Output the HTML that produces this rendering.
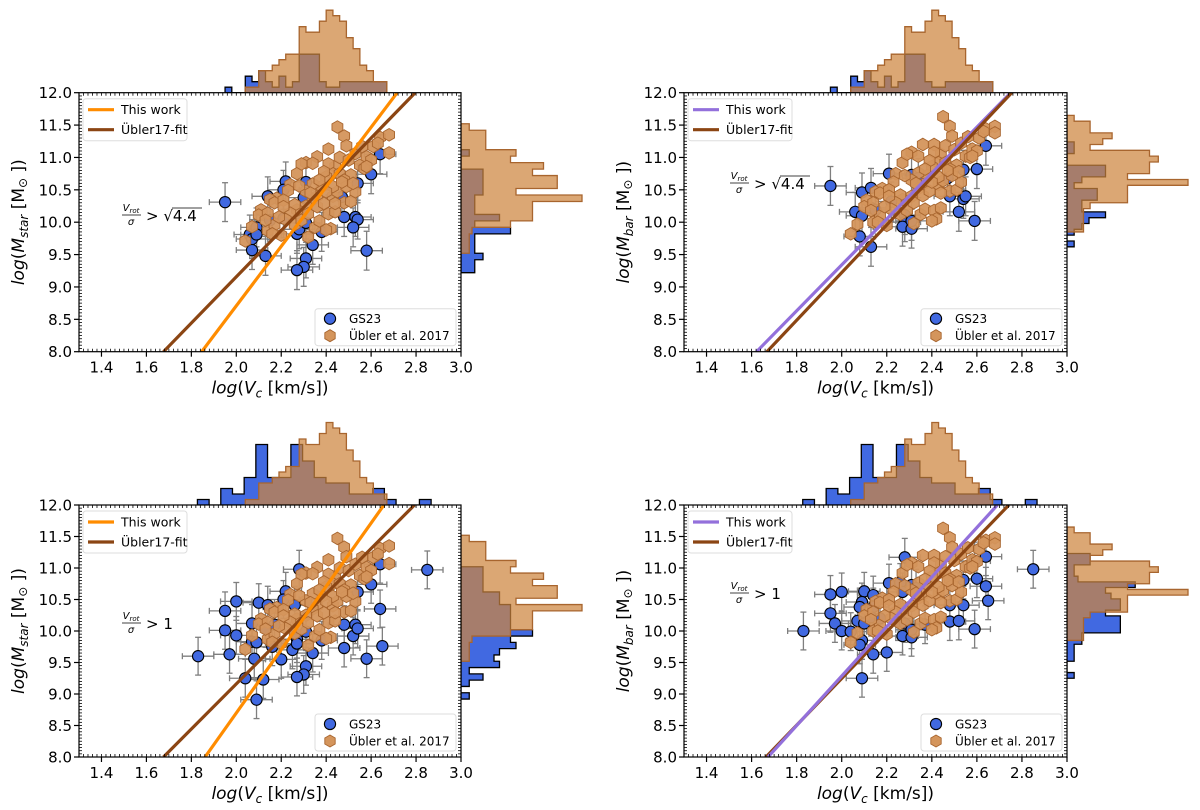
<!DOCTYPE html>
<html><head><meta charset="utf-8">
<style>
html,body{margin:0;padding:0;background:#fff;}
svg{display:block;font-family:"DejaVu Sans","Liberation Sans",sans-serif;}
</style></head>
<body>
<svg id="fig" width="1200" height="810" viewBox="0 0 1200 810" xmlns="http://www.w3.org/2000/svg"></svg>
<script>
// ---- shared data (Übler et al. 2017 sample) ----
const ublerVc = [2.45,2.48,2.49,2.41,2.36,2.31,2.34,2.27,2.24,2.23,2.18,2.15,2.17,2.21,2.11,2.10,2.07,2.04,2.14,2.17,2.20,2.32,2.35,2.37,2.41,2.44,2.42,2.40,2.48,2.51,2.53,2.51,2.55,2.58,2.61,2.64,2.68,2.68,2.63,2.57,2.44,2.43,2.41,2.46,2.48,2.40,2.38,2.36,2.34,2.31,2.27,2.26,2.24,2.22,2.26,2.29,2.32,2.36,2.39,2.43,2.45,2.49,2.43,2.40,2.46,2.50,2.53,2.56,2.47,2.34,2.31,2.28,2.21,2.14,2.13,2.19,2.16,2.60,2.58,2.39,2.44,2.29,2.52,2.37,2.33];
const ublerMstar = [11.47,11.33,11.18,11.13,11.01,10.92,10.91,10.75,10.58,10.49,10.37,10.35,10.30,10.34,10.19,10.11,9.93,9.71,9.87,9.96,9.80,9.77,9.92,10.02,10.13,10.16,9.90,9.88,10.30,10.32,10.47,10.73,10.88,11.01,11.17,11.31,11.35,11.07,11.22,10.83,10.86,10.75,10.90,10.75,10.65,10.70,10.55,10.40,10.35,10.25,10.19,10.27,10.14,10.04,9.96,10.03,10.13,10.24,10.29,10.40,10.47,10.55,10.55,10.47,11.00,10.96,11.06,11.17,10.62,10.59,10.48,10.56,10.24,10.14,10.03,10.08,9.82,10.96,10.86,10.78,10.29,10.90,10.60,10.65,10.45];
const ublerMbar = [11.63,11.48,11.33,11.20,11.20,11.08,11.02,10.92,10.75,10.62,10.52,10.47,10.45,10.50,10.34,10.24,9.97,9.82,10.00,10.10,9.95,9.98,10.12,10.20,10.18,10.22,10.05,10.02,10.48,10.50,10.62,10.88,11.02,11.13,11.30,11.44,11.48,11.38,11.40,11.00,11.05,10.92,11.08,10.92,10.82,10.86,10.72,10.58,10.52,10.40,10.35,10.42,10.30,10.20,10.12,10.18,10.30,10.41,10.48,10.58,10.64,10.72,10.70,10.62,11.18,11.12,11.22,11.32,10.80,10.76,10.65,10.72,10.40,10.30,10.18,10.24,10.00,11.10,11.02,10.95,10.45,11.05,10.78,10.82,10.60];

// ---- GS23 samples ----
const tlBlueX = [1.95,2.06,2.07,2.09,2.09,2.07,2.13,2.14,2.15,2.22,2.21,2.21,2.30,2.31,2.27,2.28,2.31,2.34,2.31,2.30,2.27,2.38,2.47,2.48,2.54,2.53,2.54,2.52,2.60,2.64,2.58];
const tlBlueY = [10.31,9.81,9.74,9.92,9.81,9.57,9.48,10.40,10.03,10.63,10.50,10.06,10.38,10.62,9.82,9.89,9.99,9.65,9.44,9.31,9.26,9.85,10.39,10.08,10.60,10.08,10.04,9.92,10.74,11.05,9.56];
const trBlueX = [1.95,2.06,2.09,2.09,2.08,2.13,2.13,2.15,2.13,2.21,2.22,2.28,2.28,2.27,2.31,2.31,2.31,2.34,2.48,2.52,2.54,2.55,2.54,2.59,2.60,2.64,2.47];
const trBlueY = [10.56,10.16,10.46,10.10,9.78,10.53,10.22,10.19,9.62,10.75,10.32,10.11,10.00,9.93,9.90,10.02,10.73,10.68,10.40,10.16,10.36,10.40,10.81,10.02,10.82,11.18,10.68];
const blBlueX = [1.83,1.95,1.95,1.97,2.00,2.00,2.04,2.07,2.10,2.07,2.09,2.08,2.13,2.12,2.09,2.14,2.17,2.16,2.20,2.22,2.21,2.25,2.26,2.28,2.27,2.27,2.31,2.31,2.30,2.27,2.34,2.38,2.48,2.48,2.54,2.52,2.53,2.54,2.58,2.60,2.64,2.65,2.64,2.85];
const blBlueY = [9.60,10.32,10.01,9.63,10.47,9.93,9.25,10.12,10.45,9.83,9.82,9.56,10.04,9.23,8.91,10.41,10.10,9.75,9.55,10.63,10.50,9.70,10.41,10.98,9.87,9.80,9.99,9.44,9.31,9.27,9.65,9.85,10.10,9.73,10.62,9.92,10.10,10.04,9.56,10.74,10.35,9.76,11.06,10.97];
const brBlueX = [1.83,1.95,1.95,1.97,2.00,2.00,2.04,2.09,2.10,2.09,2.08,2.07,2.10,2.09,2.08,2.14,2.14,2.13,2.17,2.14,2.20,2.21,2.26,2.28,2.27,2.25,2.28,2.27,2.31,2.31,2.31,2.33,2.37,2.48,2.48,2.52,2.54,2.54,2.59,2.60,2.59,2.64,2.64,2.65,2.85];
const brBlueY = [10.00,10.58,10.28,10.12,10.62,10.00,9.99,9.25,10.63,10.46,10.38,10.16,10.12,9.85,9.78,10.57,10.38,10.22,10.20,9.63,9.66,10.76,10.77,11.17,10.62,10.15,10.12,9.92,9.90,10.02,10.73,10.68,10.10,10.41,10.15,10.16,10.41,10.81,10.03,10.83,11.11,11.18,10.71,10.48,10.98];

// ---- fit lines: x at log M = 8 and 12 ----
const lineYs = [8, 12];
const tlThisX = [1.846, 2.716], tlUblerX = [1.676, 2.796];
const trThisX = [1.622, 2.750], trUblerX = [1.668, 2.755];
const blThisX = [1.861, 2.657], blUblerX = [1.676, 2.793];
const brThisX = [1.673, 2.691], brUblerX = [1.664, 2.742];

// ---- marginal histograms (counts) ----
const topOrangeStart = 2.04, topOrangeW = 0.03;
const topOrangeCounts = [1,1,4,4,5,6,7,7,12,11,11,13,15,14,13,10,8,5,4,2,2];
const topBlueHiStart = 1.95, topBlueHiW = 0.03;
const topBlueHiCounts = [1,0,0,3,2,4,2,1,3,1,2,7,7,7,2,1,1,2,2,2,2,2,2,2];
const topBlueAllStart = 1.827, topBlueAllW = 0.052;
const topBlueAllCounts = [1,0,3,2,5,11,5,5,11,8,5,4,4,2,2,3,1,0,0,1];

const rStarOrangeStart = 9.52, rStarW = 0.1;
const rStarOrange = [1.5,1.5,1.5,2,9,13,13,13,22,10,17.5,17.5,13,15,9,10,4.5,4.5,4.5,1.5];
const rStarBlueHiStart = 9.22;
const rStarBlueHi = [2.5,2.5,4,2.5,2.5,2.5,9,2.5,7,2.5,2.5,2.5,4,4,4,4,0,0,1.5];
const rStarBlueAllStart = 8.92;
const rStarBlueAll = [1.5,0,1.5,4,1.5,7,6,7,10,9,13,9,9,9,9,7,7,4,4,4,4];

const rBarOrangeStart = 9.85, rBarW = 0.09;
const rBarOrange = [3,3,3,3,4.2,11,11,11,22,11,15,15,16.6,15,4.2,6.5,8.2,4.2,4.2,1.3];
const rBarBlueHiStart = 9.62;
const rBarBlueHi = [1.3,0,1.3,2.7,4,7,2.7,2.7,5.5,5.5,1.3,2.7,7,7,0,0,1.3,1.3];
const rBarBlueAllStart = 9.25;
const rBarBlueAll = [1.3,0,0,1.3,1.3,1.3,2.7,2.7,9.7,9.7,9.7,7,9.7,9.7,8,7,12.4,2,1.3,1.3,4.2,4.2];

const xTicks = [1.4,1.6,1.8,2.0,2.2,2.4,2.6,2.8,3.0];
const yTicks = [8.0,8.5,9.0,9.5,10.0,10.5,11.0,11.5,12.0];

const NS = "http://www.w3.org/2000/svg";
const svg = document.getElementById('fig');
function mk(tag, attrs, parent){ const e=document.createElementNS(NS,tag); for(const k in attrs) e.setAttribute(k,attrs[k]); (parent||svg).appendChild(e); return e; }

const BLUE="#4169e1", OR_FILL="rgb(205,133,63)", OR_EDGE="#a8652e";
let clipId=0;

function panel(p){
  const g = mk('g',{});
  
  
  const X0=1.3,X1=3.0,Y0=8,Y1=12;
  const xs = v => p.x0 + (v-X0)/(X1-X0)*(p.x1-p.x0);
  const ys = v => p.y1 - (v-Y0)/(Y1-Y0)*(p.y1-p.y0);
  const U = 5.5;

  function topHist(start,w,counts,fill,stroke,op,name){
    let d=`M${xs(start)},${p.y0}`;
    counts.forEach((c,i)=>{ const xa=xs(start+i*w), xb=xs(start+(i+1)*w); d+=` L${xa},${p.y0-c*U} L${xb},${p.y0-c*U}`; });
    d+=` L${xs(start+counts.length*w)},${p.y0} Z`;
    const e=mk('path',{d,fill,'fill-opacity':op,stroke,'stroke-width':1.3},g);
    
    
  }
  function rightHist(start,w,counts,fill,stroke,op,name){
    let d=`M${p.x1},${ys(start)}`;
    counts.forEach((c,i)=>{ const ya=ys(start+i*w), yb=ys(start+(i+1)*w); d+=` L${p.x1+c*U},${ya} L${p.x1+c*U},${yb}`; });
    d+=` L${p.x1},${ys(start+counts.length*w)} Z`;
    const e=mk('path',{d,fill,'fill-opacity':op,stroke,'stroke-width':1.3},g);
    
    
  }
  topHist(p.tbStart,p.tbW,p.tbCounts,BLUE,"#000",1,'top-histogram-gs23');
  topHist(topOrangeStart,topOrangeW,topOrangeCounts,OR_FILL,OR_EDGE,0.72,'top-histogram-ubler');
  rightHist(p.rbStart,p.rW,p.rbCounts,BLUE,"#000",1,'right-histogram-gs23');
  rightHist(p.roStart,p.rW,p.roCounts,OR_FILL,OR_EDGE,0.72,'right-histogram-ubler');

  const bg=mk('rect',{x:p.x0,y:p.y0,width:p.x1-p.x0,height:p.y1-p.y0,fill:'#fff'},g);
  
  
  const cid='c'+(clipId++);
  const cp=mk('clipPath',{id:cid},g); mk('rect',{x:p.x0,y:p.y0,width:p.x1-p.x0,height:p.y1-p.y0},cp);
  const pg=mk('g',{'clip-path':`url(#${cid})`},g);

  p.bx.forEach((vx,i)=>{
    const vy=p.by[i], ex=0.07, ey=0.3;
    const eb=mk('g',{stroke:'#7f7f7f','stroke-width':1.3},pg);
    
    
    mk('line',{x1:xs(vx-ex),x2:xs(vx+ex),y1:ys(vy),y2:ys(vy)},eb);
    mk('line',{x1:xs(vx),x2:xs(vx),y1:ys(vy-ey),y2:ys(vy+ey)},eb);
    mk('line',{x1:xs(vx-ex),x2:xs(vx-ex),y1:ys(vy)-3,y2:ys(vy)+3},eb);
    mk('line',{x1:xs(vx+ex),x2:xs(vx+ex),y1:ys(vy)-3,y2:ys(vy)+3},eb);
    mk('line',{x1:xs(vx)-3,x2:xs(vx)+3,y1:ys(vy-ey),y2:ys(vy-ey)},eb);
    mk('line',{x1:xs(vx)-3,x2:xs(vx)+3,y1:ys(vy+ey),y2:ys(vy+ey)},eb);
  });
  p.bx.forEach((vx,i)=>{
    const c=mk('circle',{cx:xs(vx),cy:ys(p.by[i]),r:5.6,fill:BLUE,stroke:'#000','stroke-width':1.1},pg);
    
    
  });
  function hexPts(cx,cy,r){ let s=''; for(let k=0;k<6;k++){const a=Math.PI/2+k*Math.PI/3; s+=`${cx+r*Math.cos(a)},${cy-r*Math.sin(a)} `;} return s; }
  ublerVc.forEach((vx,i)=>{
    const h=mk('polygon',{points:hexPts(xs(vx),ys(p.oy[i]),6.3),fill:'#d4955c',stroke:'#a8652e','stroke-width':0.9,'fill-opacity':0.95},pg);
    
    
  });
  const l2=mk('line',{x1:xs(p.ublerX[0]),y1:ys(lineYs[0]),x2:xs(p.ublerX[1]),y2:ys(lineYs[1]),stroke:'#8b4513','stroke-width':3.2},pg);
  
  
  const l1=mk('line',{x1:xs(p.thisX[0]),y1:ys(lineYs[0]),x2:xs(p.thisX[1]),y2:ys(lineYs[1]),stroke:p.lineColor,'stroke-width':3.2},pg);
  
  
  if(p.first==='this'){ pg.appendChild(l2); }

  const fr=mk('rect',{x:p.x0,y:p.y0,width:p.x1-p.x0,height:p.y1-p.y0,fill:'none',stroke:'#000','stroke-width':1.2},g);
  
  
  const tg=mk('g',{stroke:'#000','stroke-width':0.8},g);
  
  
  for(let v=1.32; v<3.0; v+=0.02){ const x=xs(v); mk('line',{x1:x,x2:x,y1:p.y1,y2:p.y1-3},tg); mk('line',{x1:x,x2:x,y1:p.y0,y2:p.y0+3},tg); }
  for(let v=8.05; v<12; v+=0.05){ const y=ys(v); mk('line',{x1:p.x0,x2:p.x0+3,y1:y,y2:y},tg); mk('line',{x1:p.x1,x2:p.x1-3,y1:y,y2:y},tg); }
  xTicks.forEach(v=>{ const x=xs(v); mk('line',{x1:x,x2:x,y1:p.y1,y2:p.y1+5,'stroke-width':1.2},tg);
    const t=mk('text',{x:x,y:p.y1+21,'text-anchor':'middle','font-size':15,fill:'#000'},g); t.textContent=v.toFixed(1);
      });
  yTicks.forEach(v=>{ const y=ys(v); mk('line',{x1:p.x0,x2:p.x0-5,y1:y,y2:y,'stroke-width':1.2},tg);
    const t=mk('text',{x:p.x0-7,y:y+5.5,'text-anchor':'end','font-size':15,fill:'#000'},g); t.textContent=v.toFixed(1);
      });

  const xl=mk('text',{x:(p.x0+p.x1)/2,y:p.y1+42,'text-anchor':'middle','font-size':17,fill:'#000'},g);
  xl.innerHTML='<tspan font-style="italic">log</tspan>(<tspan font-style="italic">V</tspan><tspan font-size="12" dy="4" font-style="italic">c</tspan><tspan dy="-4"> [km/s])</tspan>';
   
  const cy=(p.y0+p.y1)/2, lx=p.x0-55;
  const yl=mk('text',{x:lx,y:cy,'text-anchor':'middle','font-size':17,fill:'#000',transform:`rotate(-90 ${lx} ${cy})`},g);
  yl.innerHTML=`<tspan font-style="italic">log</tspan>(<tspan font-style="italic">M</tspan><tspan font-size="12" dy="4" font-style="italic">${p.sub}</tspan><tspan dy="-4"> [M</tspan><tspan font-size="12" dy="3">⊙</tspan><tspan dy="-3"> ])</tspan>`;
   

  const an=mk('g',{},g);
   
  const ax=p.annX, ay=p.annY;
  const t1=mk('text',{x:ax+9,y:ay-4,'text-anchor':'middle','font-size':10,'font-style':'italic'},an); t1.innerHTML='V<tspan font-size="7" dy="2">rot</tspan>';
  mk('line',{x1:ax,x2:ax+19,y1:ay,y2:ay,stroke:'#000','stroke-width':0.8},an);
  const t2=mk('text',{x:ax+9,y:ay+10,'text-anchor':'middle','font-size':10,'font-style':'italic'},an); t2.textContent='σ';
  const t3=mk('text',{x:ax+24,y:ay+6,'font-size':15},an); t3.textContent=p.annText;
  if(p.sqrt){ mk('line',{x1:ax+50,x2:ax+80,y1:ay-7,y2:ay-7,stroke:'#000','stroke-width':0.8},an); }

  const lg=mk('g',{},g);
   
  mk('rect',{x:p.x0+4,y:p.y0+6,width:104,height:42,rx:3,fill:'#fff',stroke:'#ddd','stroke-width':1},lg);
  mk('line',{x1:p.x0+9,x2:p.x0+35,y1:p.y0+17,y2:p.y0+17,stroke:p.lineColor,'stroke-width':3.2},lg);
  mk('line',{x1:p.x0+9,x2:p.x0+35,y1:p.y0+37,y2:p.y0+37,stroke:'#8b4513','stroke-width':3.2},lg);
  const e1=mk('text',{x:p.x0+42,y:p.y0+21.5,'font-size':12.5},lg); e1.textContent='This work';
  const e2=mk('text',{x:p.x0+42,y:p.y0+41.5,'font-size':12.5},lg); e2.textContent='Übler17-fit';
  const lg2=mk('g',{},g);
   
  const bx=p.x1-146, by=p.y1-43;
  mk('rect',{x:bx,y:by,width:141,height:37,rx:3,fill:'#fff',stroke:'#ddd','stroke-width':1},lg2);
  mk('circle',{cx:bx+15,cy:by+10,r:5.6,fill:BLUE,stroke:'#000','stroke-width':1.1},lg2);
  mk('polygon',{points:hexPts(bx+15,by+27,6),fill:'#d4955c',stroke:'#a8652e','stroke-width':0.9},lg2);
  const e3=mk('text',{x:bx+34,y:by+14.5,'font-size':12},lg2); e3.textContent='GS23';
  const e4=mk('text',{x:bx+34,y:by+31.5,'font-size':12},lg2); e4.textContent='Übler et al. 2017';
}

panel({name:'panel-mstar-high-ratio',x0:79,x1:461,y0:92.7,y1:351.7,bx:tlBlueX,by:tlBlueY,oy:ublerMstar,thisX:tlThisX,ublerX:tlUblerX,lineColor:'#ff8c00',sub:'star',
  tbStart:topBlueHiStart,tbW:topBlueHiW,tbCounts:topBlueHiCounts,rbStart:rStarBlueHiStart,rW:rStarW,rbCounts:rStarBlueHi,roStart:rStarOrangeStart,roCounts:rStarOrange,
  annX:122,annY:215,annText:'> √4.4',sqrt:true});
panel({name:'panel-mbar-high-ratio',x0:684,x1:1067,y0:92.7,y1:351.7,bx:trBlueX,by:trBlueY,oy:ublerMbar,thisX:trThisX,ublerX:trUblerX,lineColor:'#9370db',sub:'bar',
  tbStart:topBlueHiStart,tbW:topBlueHiW,tbCounts:topBlueHiCounts,rbStart:rBarBlueHiStart,rW:rBarW,rbCounts:rBarBlueHi,roStart:rBarOrangeStart,roCounts:rBarOrange,
  annX:730,annY:183,annText:'> √4.4',sqrt:true,first:'this'});
panel({name:'panel-mstar-all',x0:79,x1:461,y0:505,y1:757,bx:blBlueX,by:blBlueY,oy:ublerMstar,thisX:blThisX,ublerX:blUblerX,lineColor:'#ff8c00',sub:'star',
  tbStart:topBlueAllStart,tbW:topBlueAllW,tbCounts:topBlueAllCounts,rbStart:rStarBlueAllStart,rW:rStarW,rbCounts:rStarBlueAll,roStart:rStarOrangeStart,roCounts:rStarOrange,
  annX:122,annY:623,annText:'> 1',sqrt:false});
panel({name:'panel-mbar-all',x0:684,x1:1067,y0:505,y1:757,bx:brBlueX,by:brBlueY,oy:ublerMbar,thisX:brThisX,ublerX:brUblerX,lineColor:'#9370db',sub:'bar',
  tbStart:topBlueAllStart,tbW:topBlueAllW,tbCounts:topBlueAllCounts,rbStart:rBarBlueAllStart,rW:rBarW,rbCounts:rBarBlueAll,roStart:rBarOrangeStart,roCounts:rBarOrange,
  annX:730,annY:593,annText:'> 1',sqrt:false});
</script>
</body></html>
